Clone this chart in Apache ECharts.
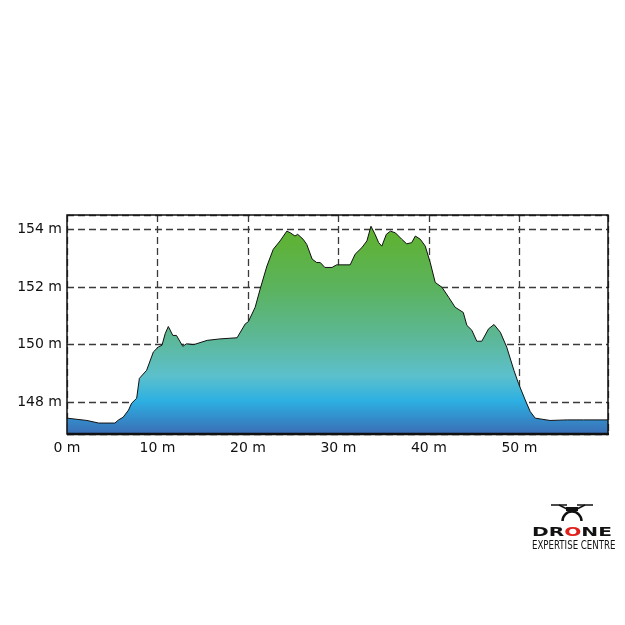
<!DOCTYPE html>
<html>
<head>
<meta charset="utf-8">
<script src="https://cdn.jsdelivr.net/npm/echarts@6/dist/echarts.min.js"></script>
<style>
html, body { margin: 0; padding: 0; background: #fff; }
#chart { width: 625px; height: 625px; }
</style>
</head>
<body>
<div id="chart"></div>
<script>
// distance along the track (m)
var distance = [0, 1.1, 2.2, 3.5, 5.3, 5.7, 6.2, 6.8, 7.15, 7.7, 8.0, 8.8, 9.55, 10.1, 10.5, 10.85,
  11.2, 11.3, 11.7, 12.1, 12.8, 13.2, 14.0, 15.5, 16.9, 18.8, 19.7, 20.05, 20.8, 21.35, 22.1,
  22.8, 23.55, 24.3, 24.7, 25.2, 25.5, 26.1, 26.5, 27.1, 27.6, 28.0, 28.5, 29.3, 29.8, 31.3,
  31.85, 32.6, 33.15, 33.6, 34.05, 34.45, 34.8, 35.3, 35.75, 36.3, 37.0, 37.55, 38.1, 38.5,
  39.05, 39.6, 40.15, 40.7, 41.45, 42.2, 42.9, 43.8, 44.2, 44.75, 45.3, 45.85, 46.6, 47.2,
  47.9, 48.6, 49.4, 49.9, 50.65, 51.2, 51.75, 53.4, 55.3, 57.1, 59.8];
// elevation (m)
var elevation = [147.45, 147.41, 147.37, 147.28, 147.28, 147.39, 147.48, 147.73, 147.97, 148.14,
  148.83, 149.11, 149.75, 149.92, 149.98, 150.38, 150.63, 150.66, 150.32, 150.32, 149.94, 150.03,
  150.0, 150.15, 150.2, 150.24, 150.72, 150.8, 151.3, 151.93, 152.73, 153.31, 153.6, 153.94,
  153.88, 153.77, 153.83, 153.66, 153.48, 152.97, 152.85, 152.85, 152.68, 152.68, 152.77, 152.77,
  153.14, 153.37, 153.6, 154.11, 153.83, 153.54, 153.42, 153.83, 153.94, 153.88, 153.66, 153.5,
  153.54, 153.77, 153.66, 153.42, 152.85, 152.16, 151.99, 151.64, 151.3, 151.12, 150.67, 150.5,
  150.12, 150.12, 150.55, 150.7, 150.43, 149.92, 149.11, 148.66, 148.08, 147.68, 147.45, 147.37,
  147.39, 147.39, 147.39];

var points = [];
for (var i = 0; i < distance.length; i++) {
  points.push([distance[i], elevation[i]]);
}

var labelStyle = {
  color: '#111',
  fontFamily: 'DejaVu Sans',
  fontSize: 14,
  formatter: function (v) { return v + ' m'; }
};
var gridLine = { lineStyle: { color: '#3a3a3a', type: [7, 4], width: 1.3 } };

var myChart = echarts.init(document.getElementById('chart'));
var option = {
  backgroundColor: '#fff',
  animation: false,
  grid: { left: 67, right: 17, top: 215, bottom: 191 },
  xAxis: {
    type: 'value',
    min: 0,
    max: 59.8,
    interval: 10,
    axisLine: { show: false },
    axisTick: { show: false },
    axisLabel: Object.assign({ margin: 7, showMaxLabel: false }, labelStyle),
    splitLine: gridLine
  },
  yAxis: {
    type: 'value',
    min: 146.9,
    max: 154.5,
    splitNumber: 4,
    axisLine: { show: false },
    axisTick: { show: false },
    axisLabel: Object.assign({ margin: 5, showMinLabel: false, showMaxLabel: false }, labelStyle),
    splitLine: gridLine
  },
  series: [{
    type: 'line',
    data: points,
    symbol: 'none',
    lineStyle: { color: '#111', width: 1 },
    areaStyle: {
      opacity: 1,
      color: new echarts.graphic.LinearGradient(0, 0, 0, 1, [
        { offset: 0, color: '#5fb22c' },
        { offset: 0.3, color: '#5bb35e' },
        { offset: 0.55, color: '#5cb89a' },
        { offset: 0.72, color: '#5cc0cc' },
        { offset: 0.84, color: '#2db0e2' },
        { offset: 1, color: '#3a6db5' }
      ])
    }
  }],
  graphic: [
    // plot frame
    {
      type: 'rect', z: 100,
      shape: { x: 67, y: 215, width: 541, height: 219 },
      style: { fill: null, stroke: '#111', lineWidth: 1.5 }
    },
    {
      type: 'line', z: 100,
      shape: { x1: 67, y1: 434, x2: 609, y2: 434 },
      style: { stroke: '#111', lineWidth: 2.5 }
    },
    // logo: drone icon
    {
      type: 'group', z: 100,
      children: [
        { type: 'line', shape: { x1: 551, y1: 505, x2: 567, y2: 505 }, style: { stroke: '#111', lineWidth: 1.5 } },
        { type: 'line', shape: { x1: 577, y1: 505, x2: 593, y2: 505 }, style: { stroke: '#111', lineWidth: 1.5 } },
        { type: 'line', shape: { x1: 559, y1: 505, x2: 567, y2: 509 }, style: { stroke: '#111', lineWidth: 1.5 } },
        { type: 'line', shape: { x1: 585, y1: 505, x2: 577, y2: 509 }, style: { stroke: '#111', lineWidth: 1.5 } },
        { type: 'rect', shape: { x: 566, y: 507, width: 12, height: 4 }, style: { fill: '#111' } },
        { type: 'arc', shape: { cx: 572, cy: 521, r: 9.5, startAngle: Math.PI, endAngle: 2 * Math.PI }, style: { stroke: '#111', lineWidth: 2.5, fill: null } }
      ]
    },
    {
      type: 'text', z: 100, x: 532, y: 526, scaleX: 1.55, scaleY: 1,
      style: {
        text: '{a|DR}{b|O}{a|NE}',
        rich: {
          a: { fontFamily: 'DejaVu Sans', fontWeight: 'bold', fontSize: 13, fill: '#111' },
          b: { fontFamily: 'DejaVu Sans', fontWeight: 'bold', fontSize: 13, fill: '#e0201b' }
        }
      }
    },
    {
      type: 'text', z: 100, x: 532, y: 540, scaleX: 0.8, scaleY: 1,
      style: {
        text: 'EXPERTISE CENTRE',
        fontFamily: 'DejaVu Sans Condensed',
        fontSize: 12,
        fill: '#111'
      }
    }
  ]
};
myChart.setOption(option);
</script>
</body>
</html>
